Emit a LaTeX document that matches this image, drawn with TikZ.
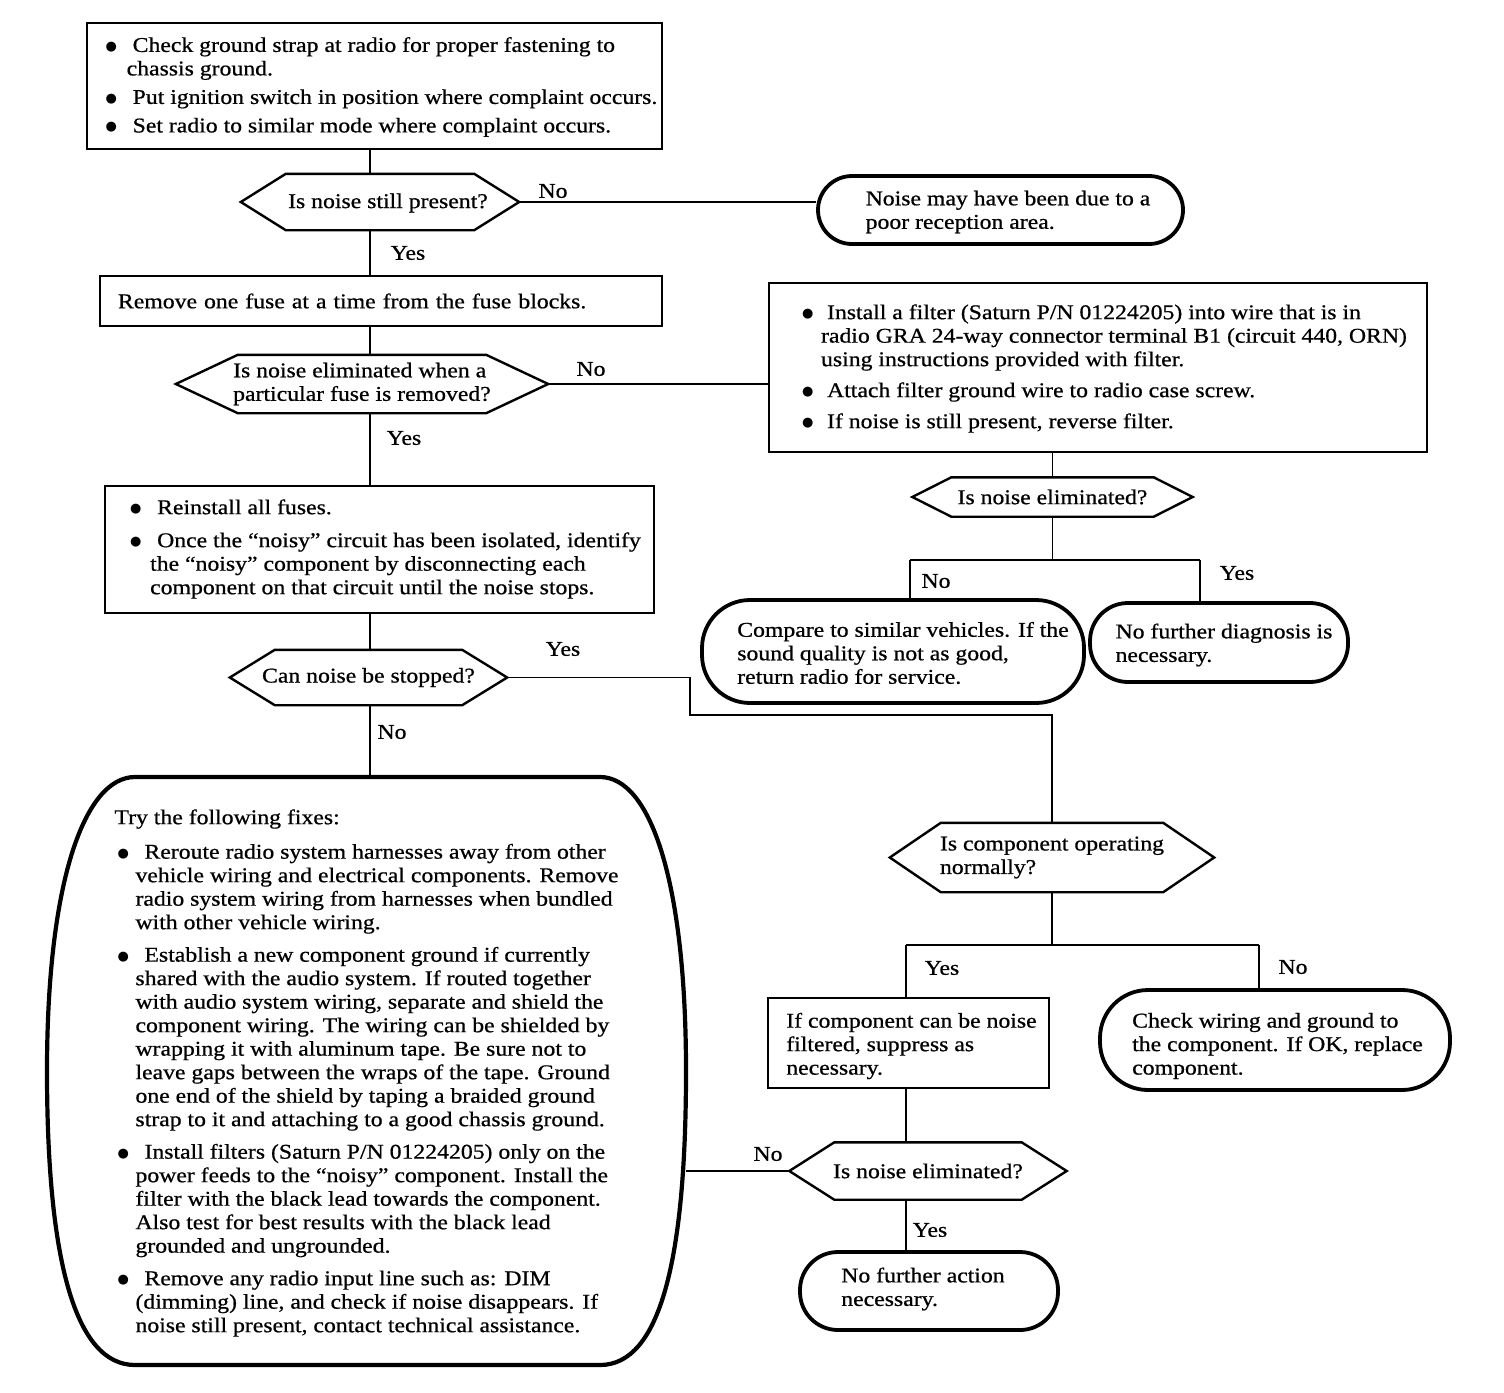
\documentclass[tikz,border=0pt]{standalone}
\usepackage{fontspec}
\setmainfont{Liberation Serif}[FakeStretch=1.13,FakeBold=0.7]
\newfontfamily\symf{DejaVu Sans}
\usetikzlibrary{calc}
\newcommand\bulp[1][30]{\makebox[#1pt][l]{\hspace*{3pt}\raisebox{1.5pt}{\symf\fontsize{13}{13}\selectfont ●}}}
\newcommand\indt[1][22]{\hspace*{#1pt}}
\newcommand\hexout[2]{\draw[hexline] (#1.west) -- ([xshift=#2pt]#1.north west) -- ([xshift=-#2pt]#1.north east) -- (#1.east) -- ([xshift=-#2pt]#1.south east) -- ([xshift=#2pt]#1.south west) -- cycle;}
\tikzset{
  every node/.style={font=\fontsize{21}{23.5}\selectfont, inner sep=0pt},
  boxn/.style={draw, line width=2.4pt, align=left},
  ovaln/.style={draw, line width=3.8pt, align=left},
  hexn/.style={align=left},
  hexline/.style={line width=2.4pt, line join=miter},
  bigline/.style={line width=4.2pt},
  conn/.style={line width=1.6pt},
}
\begin{document}
\begin{tikzpicture}[x=1pt,y=-1pt]
\useasboundingbox[fill=white] (0,0) rectangle (1504,1392);

% ---------- nodes ----------
\node[boxn, minimum width=575pt, minimum height=126pt] (b1) at (374.5,86) {};
\node[align=left] (b1t) at (380,87) {%
\bulp[30]Check ground strap at radio for proper fastening to\\
\indt[24]chassis ground.\\[5pt]
\bulp[30]Put ignition switch in position where complaint occurs.\\[5pt]
\bulp[30]Set radio to similar mode where complaint occurs.};

\node[hexn, minimum width=278pt, minimum height=56pt] (h1) at (380,202) {};
\node (h1t) at (388,203) {Is noise still present?};
\hexout{h1}{45}

\node[ovaln, rounded corners=34pt, minimum width=365pt, minimum height=68pt] (o1) at (1000.5,210) {};
\node[align=left] (o1t) at (1008,212) {Noise may have been due to a\\poor reception area.};

\node[boxn, minimum width=562pt, minimum height=50pt, text width=526pt] (b2) at (381,301) {Remove one fuse at a time from the fuse blocks.};

\node[hexn, minimum width=372pt, minimum height=58pt] (h2) at (362,384) {Is noise eliminated when a\\particular fuse is removed?};
\hexout{h2}{62}

\node[boxn, minimum width=658pt, minimum height=169pt] (b3) at (1098,367.5) {};
\node[align=left] (b3t) at (1103,368.5) {%
\bulp[28]Install a filter (Saturn P/N 01224205) into wire that is in\\
\indt[22]radio GRA 24-way connector terminal B1 (circuit 440, ORN)\\
\indt[22]using instructions provided with filter.\\[7.5pt]
\bulp[28]Attach filter ground wire to radio case screw.\\[7.5pt]
\bulp[28]If noise is still present, reverse filter.};

\node[hexn, minimum width=280pt, minimum height=39pt] (h3) at (1052.5,497) {Is noise eliminated?};
\hexout{h3}{39}

\node[ovaln, rounded corners=48pt, minimum width=382pt, minimum height=103pt] (o4) at (893,651.5) {};
\node[align=left] (o4t) at (903,653) {Compare to similar vehicles. If the\\sound quality is not as good,\\return radio for service.};

\node[ovaln, rounded corners=38pt, minimum width=258pt, minimum height=79pt] (o5) at (1219,642.5) {};
\node[align=left] (o5t) at (1224,645) {No further diagnosis is\\necessary.};

\node[boxn, minimum width=549pt, minimum height=127pt] (b4) at (379.5,549.5) {};
\node[align=left] (b4t) at (384,549) {%
\bulp[30]Reinstall all fuses.\\[9.5pt]
\bulp[30]Once the “noisy” circuit has been isolated, identify\\
\indt[23]the “noisy” component by disconnecting each\\
\indt[23]component on that circuit until the noise stops.};

\node[hexn, minimum width=277pt, minimum height=55pt] (h4) at (368.5,677.5) {Can noise be stopped?};
\hexout{h4}{45}

\node[align=left, minimum width=639pt, minimum height=588pt] (fix) at (366.5,1073) {%
Try the following fixes:\\[11pt]
\bulp[30]Reroute radio system harnesses away from other\\
\indt[21]vehicle wiring and electrical components. Remove\\
\indt[21]radio system wiring from harnesses when bundled\\
\indt[21]with other vehicle wiring.\\[9pt]
\bulp[30]Establish a new component ground if currently\\
\indt[21]shared with the audio system. If routed together\\
\indt[21]with audio system wiring, separate and shield the\\
\indt[21]component wiring. The wiring can be shielded by\\
\indt[21]wrapping it with aluminum tape. Be sure not to\\
\indt[21]leave gaps between the wraps of the tape. Ground\\
\indt[21]one end of the shield by taping a braided ground\\
\indt[21]strap to it and attaching to a good chassis ground.\\[9pt]
\bulp[30]Install filters (Saturn P/N 01224205) only on the\\
\indt[21]power feeds to the “noisy” component. Install the\\
\indt[21]filter with the black lead towards the component.\\
\indt[21]Also test for best results with the black lead\\
\indt[21]grounded and ungrounded.\\[9pt]
\bulp[30]Remove any radio input line such as: DIM\\
\indt[21](dimming) line, and check if noise disappears. If\\
\indt[21]noise still present, contact technical assistance.};
\draw[bigline] (135,777) -- (600,777)
  .. controls (650,777) and (686,880) .. (686,1071)
  .. controls (686,1260) and (660,1365) .. (600,1365)
  -- (135,1365)
  .. controls (75,1365) and (47,1260) .. (47,1071)
  .. controls (47,880) and (85,777) .. (135,777) -- cycle;

\node[hexn, minimum width=324pt, minimum height=69pt] (h5) at (1052,857.5) {Is component operating\\normally?};
\hexout{h5}{51}

\node[boxn, minimum width=281pt, minimum height=90pt] (b6) at (908.5,1043) {};
\node[align=left] (b6t) at (911.5,1046) {If component can be noise\\filtered, suppress as\\necessary.};

\node[ovaln, rounded corners=48pt, minimum width=350pt, minimum height=100pt] (o6) at (1275,1040) {};
\node[align=left] (o6t) at (1277.5,1046) {Check wiring and ground to\\the component. If OK, replace\\component.};

\node[hexn, minimum width=277pt, minimum height=57pt] (h6) at (928,1171) {Is noise eliminated?};
\hexout{h6}{45}

\node[ovaln, rounded corners=38pt, minimum width=258pt, minimum height=78pt] (o7) at (929,1291) {};
\node[align=left] (o7t) at (923,1289) {No further action\\necessary.};

% ---------- labels ----------
\node (lno1) at (553,191) {No};
\node (lyes1) at (408,253) {Yes};
\node (lno2) at (591,369) {No};
\node (lyes2) at (404,438) {Yes};
\node (lno3) at (936,581) {No};
\node (lyes3) at (1237,573) {Yes};
\node (lyes4) at (563,649) {Yes};
\node (lno4) at (392,732) {No};
\node (lyes5) at (942,968) {Yes};
\node (lno5) at (1293,967) {No};
\node (lno6) at (768,1154) {No};
\node (lyes6) at (930,1230) {Yes};

% ---------- connectors ----------
\coordinate (sp1) at (370,0);
\coordinate (sp2) at (906,0);
\draw[conn] (b1.south -| sp1) -- (h1.north -| sp1);
\draw[conn] (h1.south -| sp1) -- (b2.north -| sp1);
\draw[conn] (b2.south -| sp1) -- (h2.north -| sp1);
\draw[conn] (h2.south -| sp1) -- (b4.north -| sp1);
\draw[conn] (b4.south -| sp1) -- (h4.north -| sp1);
\draw[conn] (h4.south -| sp1) -- (fix.north -| sp1);
\draw[conn] (h1.east) -- (h1.east -| o1.west);
\draw[conn] (h2.east) -- (h2.east -| b3.west);
\draw[conn] (b3.south -| h3.north) -- (h3.north);
\coordinate (j3l) at (910,560);
\coordinate (j3r) at (1200,560);
\draw[conn] (h3.south) -- (h3.south |- j3l);
\draw[conn] (j3l) -- (j3r);
\draw[conn] (j3l) -- (j3l |- o4.north);
\draw[conn] (j3r) -- (j3r |- o5.north);
\coordinate (k1) at (690,715);
\draw[conn] (h4.east) -| (k1) -| (h5.north);
\coordinate (j5l) at (906,945);
\coordinate (j5r) at (1259,945);
\draw[conn] (h5.south) -- (h5.south |- j5l);
\draw[conn] (j5l) -- (j5r);
\draw[conn] (j5l) -- (j5l |- b6.north);
\draw[conn] (j5r) -- (j5r |- o6.north);
\draw[conn] (b6.south -| sp2) -- (h6.north -| sp2);
\draw[conn] (h6.south -| sp2) -- (o7.north -| sp2);
\draw[conn] (h6.west) -- (h6.west -| fix.east);
\end{tikzpicture}
\end{document}
